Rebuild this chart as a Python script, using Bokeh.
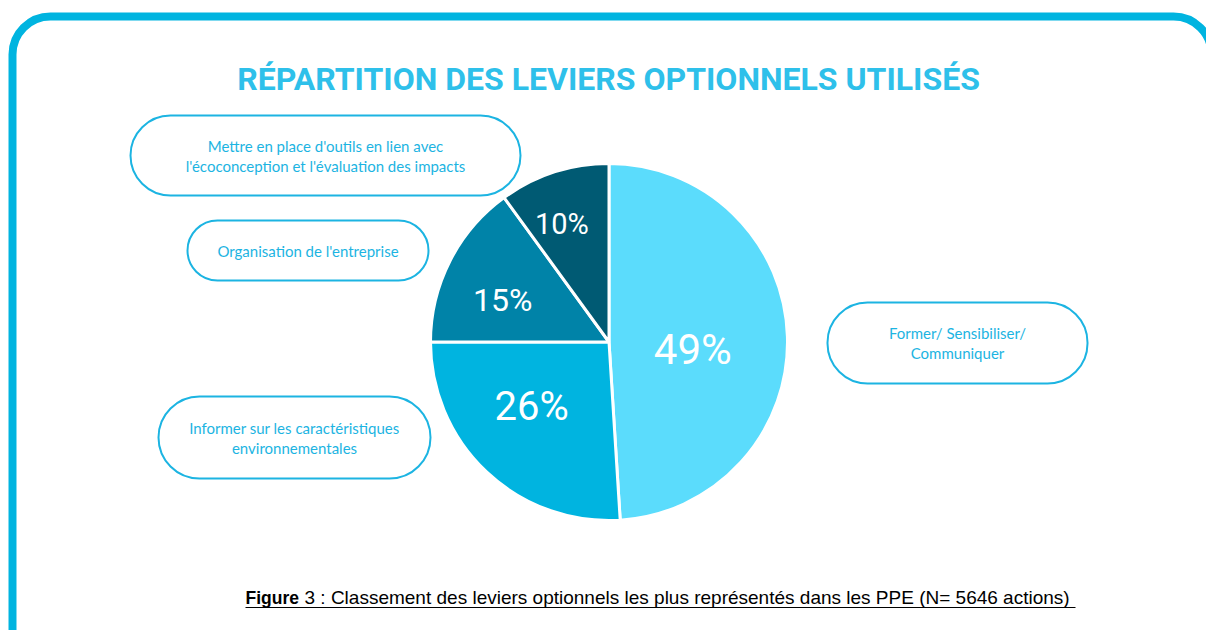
import math
from bokeh.plotting import figure
from bokeh.models import Range1d, BoxAnnotation, ColumnDataSource
from bokeh.core.properties import value
from bokeh.embed import file_html
from bokeh.resources import INLINE

# ---------------- data ----------------
title = "RÉPARTITION DES LEVIERS OPTIONNELS UTILISÉS"
categories = [
    "Former/ Sensibiliser/ Communiquer",
    "Informer sur les caractéristiques environnementales",
    "Organisation de l'entreprise",
    "Mettre en place d'outils en lien avec l'écoconception et l'évaluation des impacts",
]
values = [49, 26, 15, 10]
pct_labels = ["49%", "26%", "15%", "10%"]
colors = ["#5BDCFC", "#00B4E0", "#0083A8", "#005A73"]
bubble_lines = [
    ["Former/ Sensibiliser/", "Communiquer"],
    ["Informer sur les caractéristiques", "environnementales"],
    ["Organisation de l'entreprise"],
    ["Mettre en place d'outils en lien avec", "l'écoconception et l'évaluation des impacts"],
]
caption_bold = "Figure"
caption_rest = "3 : Classement des leviers optionnels les plus représentés dans les PPE (N= 5646 actions)"

# ---------------- layout / style ----------------
W, H = 1206, 630
def Y(sy):
    return 630 - sy

CYAN = "#00B4E0"
TXT = "#1CB4E2"

p = figure(width=W, height=H, x_range=Range1d(0, W), y_range=Range1d(0, H),
           output_backend="svg", toolbar_location=None, min_border=0,
           x_axis_type=None, y_axis_type=None)
p.grid.visible = False
p.outline_line_color = None
p.background_fill_color = "white"
p.border_fill_color = "white"

# outer rounded frame
p.add_layout(BoxAnnotation(left=12, right=1211, top=Y(16), bottom=Y(680),
                           fill_alpha=0, line_color=CYAN, line_alpha=1.0, line_width=8,
                           border_radius=38))

# title
p.text(x=[608], y=[Y(78)], text=[title], text_align="center", text_baseline="middle",
       text_font=value("Roboto"), text_font_style="bold",
       text_font_size="32px", text_color="#2EC0EA")

# pie
cx, cy, R = 608.5, Y(341.5), 178.5
total = sum(values)
starts, ends, mids = [], [], []
cum = 0
for v in values:
    s = math.pi / 2 - 2 * math.pi * cum / total
    cum += v
    e = math.pi / 2 - 2 * math.pi * cum / total
    starts.append(s); ends.append(e); mids.append((s + e) / 2)

src = ColumnDataSource(dict(start=starts, end=ends, color=colors, cat=categories, val=values))
p.wedge(x=cx, y=cy, radius=R, start_angle="start", end_angle="end", direction="clock",
        fill_color="color", line_color="white", line_width=3, source=src)

label_frac = [0.47, 0.56, 0.63, 0.71]
label_size = ["42px", "40px", "32px", "29px"]
label_dx = [0, -9, -6, -8]
label_dy = [10, -8, 9, 3]
for i in range(len(values)):
    lx = cx + label_frac[i] * R * math.cos(mids[i])
    ly = cy + label_frac[i] * R * math.sin(mids[i])
    p.text(x=[lx], y=[ly], text=[pct_labels[i]], text_align="center", text_baseline="middle",
           x_offset=label_dx[i], y_offset=label_dy[i],
           text_font=value("Roboto"), text_font_size=label_size[i], text_color="white")

# bubbles (left, right, top, bottom in screen px)
bubble_boxes = [(827, 1087, 302, 383), (158, 430, 396, 478), (187, 428, 220, 280), (130, 520, 115, 195)]
for (l, r, t, b), lines in zip(bubble_boxes, bubble_lines):
    p.add_layout(BoxAnnotation(left=l, right=r, top=Y(t), bottom=Y(b), fill_alpha=0,
                               line_color=TXT, line_alpha=1.0, line_width=2,
                               border_radius=int((b - t) // 2)))
    mx = (l + r) / 2
    my = (t + b) / 2
    n = len(lines)
    for j, line in enumerate(lines):
        yy = my + (j - (n - 1) / 2) * 20
        p.text(x=[mx], y=[Y(yy)], text=[line], text_align="center", text_baseline="middle",
               text_font=value("Lato"), text_font_size="15px", text_color=TXT)

# caption
p.text(x=[245], y=[Y(597)], text=[caption_bold], text_align="left", text_baseline="middle",
       text_font=value("Liberation Sans"), text_font_style="bold",
       text_font_size="17.5px", text_color="black")
p.text(x=[304], y=[Y(597)], text=[caption_rest], text_align="left", text_baseline="middle",
       text_font=value("Liberation Sans"), text_font_size="19px", text_color="black")
p.segment(x0=[245], x1=[1075], y0=[Y(607)], y1=[Y(607)], line_color="black", line_width=1)

open("out.html", "w").write(file_html(p, INLINE))
